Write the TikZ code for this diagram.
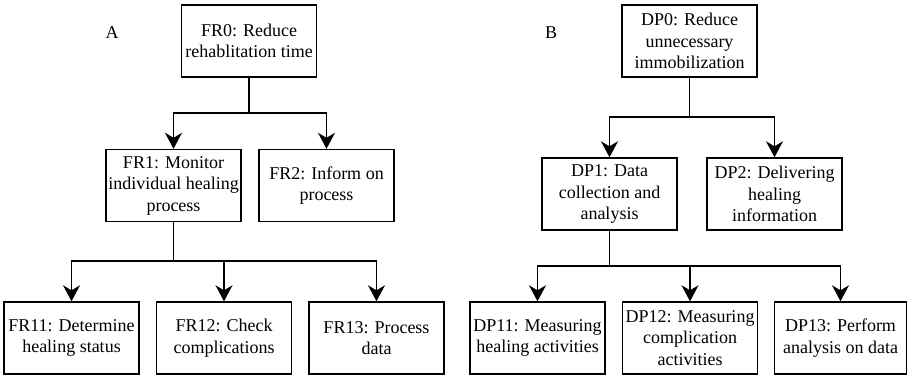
\documentclass[tikz,border=0pt]{standalone}
\usepackage{fontspec}
\setmainfont{LiberationSerif}[Extension=.ttf, UprightFont=*-Regular, BoldFont=*-Bold]
\usetikzlibrary{arrows.meta, positioning, calc}

\tikzset{
  reqbox/.style={draw, line width=1.4pt, minimum width=135pt, minimum height=72pt,
    inner sep=0pt, align=center, font=\fontsize{18}{21.5}\selectfont},
  tag/.style={font=\fontsize{18}{21.5}\selectfont},
  link/.style={line width=1.4pt},
  arr/.style={link, -{Stealth[length=16pt, width=17pt, inset=5pt]}}
}

\begin{document}
\begin{tikzpicture}[x=1pt, y=1pt]
  \useasboundingbox (0,0) rectangle (907,-377);

  % A: functional requirements
  \node[tag] (labA) at (112,-33) {A};
  \node[reqbox] (fr0) at (249,-41) {FR0: Reduce\\rehablitation time};
  \node[reqbox] (fr1) at (173.5,-185.5) {FR1: Monitor\\individual healing\\process};
  \node[reqbox] (fr2) at (326.5,-185.5) {FR2: Inform on\\process};
  \node[reqbox] (fr11) at (71.5,-338) {FR11: Determine\\healing status};
  \node[reqbox] (fr12) at (224,-338) {FR12: Check\\complications};
  \node[reqbox] (fr13) at (376.5,-338) {FR13: Process\\data};

  \coordinate (jA0) at (249,-113);
  \coordinate (jA1) at (173.5,-261);
  \draw[link] (fr0.south) -- (jA0);
  \draw[arr] (jA0) -| (fr1.north);
  \draw[arr] (jA0) -| (fr2.north);
  \draw[link] (fr1.south) -- (jA1);
  \draw[arr] (jA1) -| (fr11.north);
  \draw[arr] (jA1) -| (fr12.north);
  \draw[arr] (jA1) -| (fr13.north);

  % B: design parameters
  \node[tag] (labB) at (551,-33) {B};
  \node[reqbox] (dp0) at (689.5,-41) {DP0: Reduce\\unnecessary\\immobilization};
  \node[reqbox] (dp1) at (609.5,-194) {DP1: Data\\collection and\\analysis};
  \node[reqbox] (dp2) at (774.5,-194) {DP2: Delivering\\healing\\information};
  \node[reqbox] (dp11) at (537.5,-338) {DP11: Measuring\\healing activities};
  \node[reqbox] (dp12) at (690,-338) {DP12: Measuring\\complication\\activities};
  \node[reqbox, minimum width=132pt] (dp13) at (840.5,-338) {DP13: Perform\\analysis on data};

  \coordinate (jB0) at (689.5,-117);
  \coordinate (jB1) at (609.5,-266);
  \draw[link] (dp0.south) -- (jB0);
  \draw[arr] (jB0) -| (dp1.north);
  \draw[arr] (jB0) -| (dp2.north);
  \draw[link] (dp1.south) -- (jB1);
  \draw[arr] (jB1) -| (dp11.north);
  \draw[arr] (jB1) -| (dp12.north);
  \draw[arr] (jB1) -| (dp13.north);
\end{tikzpicture}
\end{document}
